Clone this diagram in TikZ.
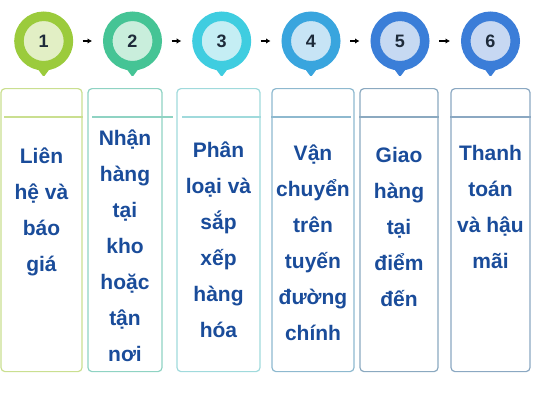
\documentclass[tikz,border=0pt]{standalone}
\usepackage{fontspec}
\newfontfamily\stepfont{Liberation Sans}
\usetikzlibrary{arrows.meta}
\usetikzlibrary{calc}
\definecolor{ringA}{HTML}{9BCB3C}
\definecolor{ringB}{HTML}{45C495}
\definecolor{ringC}{HTML}{3FCDE0}
\definecolor{ringD}{HTML}{39A5DE}
\definecolor{ringE}{HTML}{3A7ED8}
\definecolor{ringF}{HTML}{3B7DD8}
\definecolor{coreA}{HTML}{E2EFC5}
\definecolor{coreB}{HTML}{C9EEDC}
\definecolor{coreC}{HTML}{C5EEF4}
\definecolor{coreD}{HTML}{C7E4F5}
\definecolor{coreE}{HTML}{C6D9F2}
\definecolor{coreF}{HTML}{C7D8F2}
\definecolor{edgeA}{HTML}{CADF90}
\definecolor{edgeB}{HTML}{8FD3C3}
\definecolor{edgeC}{HTML}{A0DADC}
\definecolor{edgeD}{HTML}{8EB9CF}
\definecolor{edgeE}{HTML}{8BA9C0}
\definecolor{edgeF}{HTML}{8BA8C2}
\definecolor{wordblue}{HTML}{1A4C9A}
\definecolor{digit}{HTML}{1E2B3A}

\begin{document}
\begin{tikzpicture} [
  x=1pt, y=-1pt,
  every node/.style={font=\stepfont\bfseries},
  stepdot/.style={circle,minimum size=49.5pt,inner sep=0,line width=9.5pt,
    font=\stepfont\bfseries\fontsize{18}{18}\selectfont,text=digit},
  tip/.style={rounded corners=1.5pt},
  card/.style={rectangle,draw,rounded corners=4pt,line width=1.2pt,
    minimum height=283pt,anchor=north,inner sep=0},
  words/.style={anchor=north,inner sep=0,align=center,text=wordblue,
    font=\stepfont\bfseries\fontsize{21}{36}\selectfont},
  go/.style={-{Latex[length=4.5pt,width=5.5pt]},line width=1.6pt,
    shorten <=9.5pt,shorten >=11pt}
  ]
  \useasboundingbox (0,0) rectangle (533,400);
  % step markers
  \node (s1) [stepdot,draw=ringA,fill=coreA] at (43.7,41) {1};
  \node (s2) [stepdot,draw=ringB,fill=coreB] at (132.5,41) {2};
  \node (s3) [stepdot,draw=ringC,fill=coreC] at (221.7,41) {3};
  \node (s4) [stepdot,draw=ringD,fill=coreD] at (311,41) {4};
  \node (s5) [stepdot,draw=ringE,fill=coreE] at (400,41) {5};
  \node (s6) [stepdot,draw=ringF,fill=coreF] at (490.5,41) {6};
  \fill [ringA,tip] ($(s1.south)+(-7,-3)$) -- ($(s1.south)+(0,6.5)$) -- ($(s1.south)+(7,-3)$) -- cycle;
  \fill [ringB,tip] ($(s2.south)+(-7,-3)$) -- ($(s2.south)+(0,6.5)$) -- ($(s2.south)+(7,-3)$) -- cycle;
  \fill [ringC,tip] ($(s3.south)+(-7,-3)$) -- ($(s3.south)+(0,6.5)$) -- ($(s3.south)+(7,-3)$) -- cycle;
  \fill [ringD,tip] ($(s4.south)+(-7,-3)$) -- ($(s4.south)+(0,6.5)$) -- ($(s4.south)+(7,-3)$) -- cycle;
  \fill [ringE,tip] ($(s5.south)+(-7,-3)$) -- ($(s5.south)+(0,6.5)$) -- ($(s5.south)+(7,-3)$) -- cycle;
  \fill [ringF,tip] ($(s6.south)+(-7,-3)$) -- ($(s6.south)+(0,6.5)$) -- ($(s6.south)+(7,-3)$) -- cycle;
  \draw [go] (s1) -- (s2);
  \draw [go] (s2) -- (s3);
  \draw [go] (s3) -- (s4);
  \draw [go] (s4) -- (s5);
  \draw [go] (s5) -- (s6);
  % cards
  \node (b1) [card,draw=edgeA,minimum width=81pt] at (41.5,88) {};
  \node (b2) [card,draw=edgeB,minimum width=74pt] at (125,88) {};
  \node (b3) [card,draw=edgeC,minimum width=83pt] at (218.5,88) {};
  \node (b4) [card,draw=edgeD,minimum width=82pt] at (313,88) {};
  \node (b5) [card,draw=edgeE,minimum width=78pt] at (399,88) {};
  \node (b6) [card,draw=edgeF,minimum width=79pt] at (490.5,88) {};
  \draw [edgeA,line width=1.2pt] ($(b1.north west)+(4,29)$) -- ($(b1.north east)+(0,29)$);
  \draw [edgeB,line width=1.2pt] ($(b2.north west)+(5,29)$) -- ($(b2.north east)+(10,29)$);
  \draw [edgeC,line width=1.2pt] ($(b3.north west)+(6,29)$) -- ($(b3.north east)+(0,29)$);
  \draw [edgeD,line width=1.2pt] ($(b4.north west)+(0,29)$) -- ($(b4.north east)+(-4,29)$);
  \draw [edgeE,line width=1.2pt] ($(b5.north west)+(0,29)$) -- ($(b5.north east)+(0,29)$);
  \draw [edgeF,line width=1.2pt] ($(b6.north west)+(0,29)$) -- ($(b6.north east)+(0,29)$);
  % card texts
  \node (t1) [words] at (41.5,141) {\rule{0pt}{22pt}Liên\\hệ và\\báo\\giá};
  \node (t2) [words] at (125,123) {\rule{0pt}{22pt}Nhận\\hàng\\tại\\kho\\hoặc\\tận\\nơi};
  \node (t3) [words] at (218.5,135) {\rule{0pt}{22pt}Phân\\loại và\\sắp\\xếp\\hàng\\hóa};
  \node (t4) [words] at (313,138) {\rule{0pt}{22pt}Vận\\chuyển\\trên\\tuyến\\đường\\chính};
  \node (t5) [words] at (399,140) {\rule{0pt}{22pt}Giao\\hàng\\tại\\điểm\\đến};
  \node (t6) [words] at (490.5,138) {\rule{0pt}{22pt}Thanh\\toán\\và hậu\\mãi};
\end{tikzpicture}
\end{document}
